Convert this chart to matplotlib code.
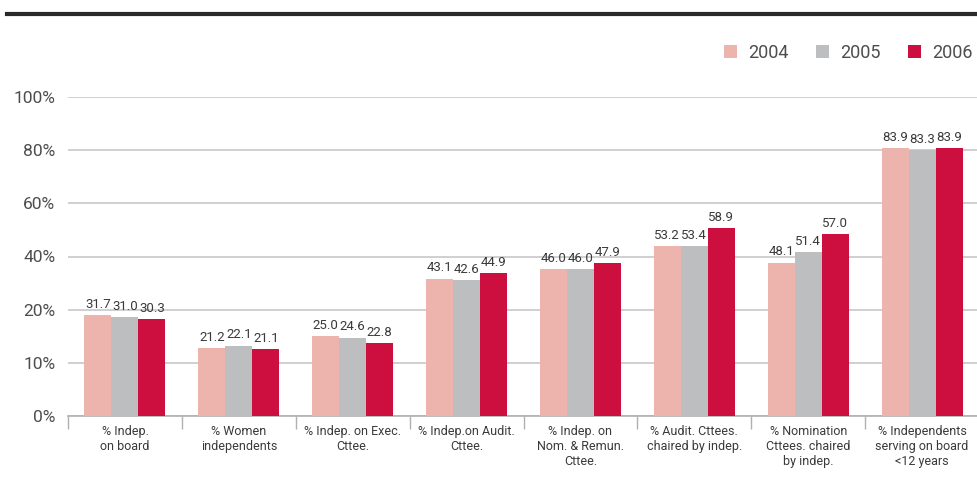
import numpy as np
import matplotlib
matplotlib.use("Agg")
import matplotlib.pyplot as plt
from matplotlib.patches import Patch
from matplotlib.lines import Line2D

plt.rcParams["font.family"] = ["Roboto", "DejaVu Sans"]

categories = ["% Indep.\non board", "% Women\nindependents", "% Indep. on Exec.\nCttee.",
              "% Indep.on Audit.\nCttee.", "% Indep. on\nNom. & Remun.\nCttee.",
              "% Audit. Cttees.\nchaired by indep.", "% Nomination\nCttees. chaired\nby indep.",
              "% Independents\nserving on board\n<12 years"]
years = ["2004", "2005", "2006"]
v2004 = [31.7, 21.2, 25.0, 43.1, 46.0, 53.2, 48.1, 83.9]
v2005 = [31.0, 22.1, 24.6, 42.6, 46.0, 53.4, 51.4, 83.3]
v2006 = [30.3, 21.1, 22.8, 44.9, 47.9, 58.9, 57.0, 83.9]
ytick_labels = ["0%", "10%", "20%", "40%", "60%", "80%", "100%"]

colors = ["#EDB4AE", "#BDBEC0", "#CD0F40"]
txt = "#3a3a3a"

fig = plt.figure(figsize=(9.77, 4.99), dpi=100)
ax = fig.add_axes([68/977, 1 - 416/499, (979 - 68)/977, (416 - 97)/499])

x = np.arange(len(categories)) + 0.5
w = 0.237
for k, (vals, col) in enumerate(zip([v2004, v2005, v2006], colors)):
    bars = ax.bar(x + (k - 1) * w, vals, width=w, color=col, zorder=3, linewidth=0)
    for b, v in zip(bars, vals):
        ax.text(b.get_x() + b.get_width() / 2, v + 1.3, f"{v:.1f}", ha="center", va="bottom",
                fontsize=9.5, color=txt, zorder=4)

ax.set_xlim(0, len(categories))
ax.set_ylim(0, 100)
# gridlines are evenly spaced; labels as printed
ax.set_yticks(np.linspace(0, 100, 7))
ax.set_yticklabels(ytick_labels, fontsize=12.5, color="#4d4d4d")
ax.tick_params(axis="y", length=0, pad=9)
ax.grid(axis="y", color="#c8c8c8", linewidth=1.2, zorder=0)

# category separators as downward ticks, labels centred between them
ax.set_xticks(np.arange(len(categories) + 1))
ax.set_xticklabels([])
ax.tick_params(axis="x", length=9, width=1, color="#b0b0b0", direction="out")
for xi, lab in zip(x, categories):
    ax.text(xi, -2.8, lab, ha="center", va="top", fontsize=9, color=txt,
            linespacing=1.2, transform=ax.transData)

for s in ["top", "right", "left"]:
    ax.spines[s].set_visible(False)
ax.spines["bottom"].set_color("#b0b0b0")
ax.spines["bottom"].set_linewidth(1.2)

# heavy rule across the top
fig.add_artist(Line2D([7/977, 1.0], [1 - 14/499] * 2, color="#2a2a2a", linewidth=3))

handles = [Patch(facecolor=c, edgecolor="none") for c in colors]
fig.legend(handles, years, loc="center right", bbox_to_anchor=(1.012, 1 - 53/499),
           ncol=3, frameon=False, fontsize=13, handlelength=0.75, handleheight=0.75,
           handletextpad=0.6, columnspacing=1.5, labelcolor="#4d4d4d")

fig.savefig("out.png", dpi=100)
